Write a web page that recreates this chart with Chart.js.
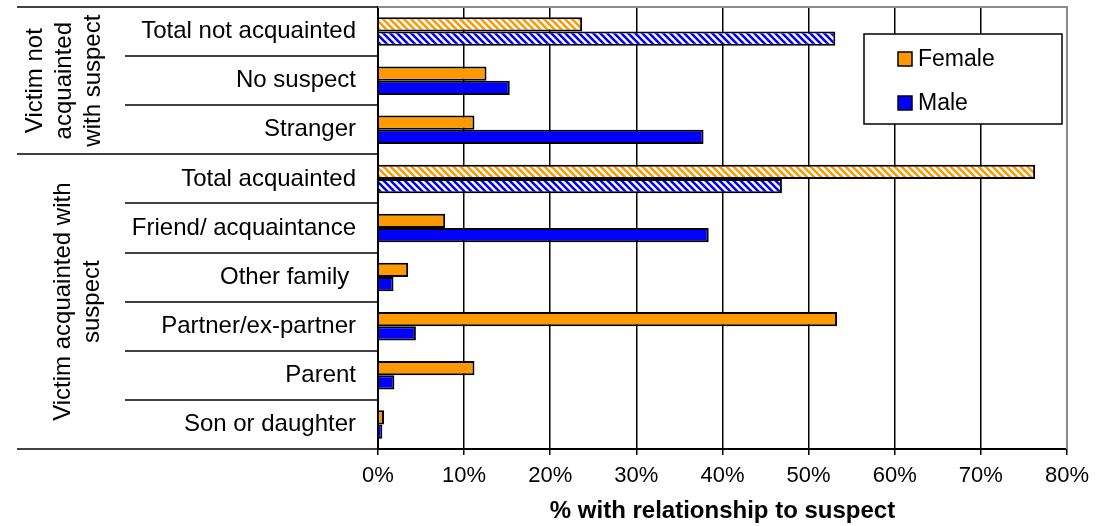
<!DOCTYPE html>
<html>
<head>
<meta charset="utf-8">
<script src="https://cdn.jsdelivr.net/npm/chart.js"></script>
<style>
  html, body { margin: 0; padding: 0; background: #fff; }
  canvas { display: block; }
</style>
</head>
<body>
<canvas id="chart" width="1097" height="526"></canvas>
<script>
const categories = ['Total not acquainted', 'No suspect', 'Stranger', 'Total acquainted',
  'Friend/ acquaintance', 'Other family ', 'Partner/ex-partner', 'Parent', 'Son or daughter'];
const female = [23.7, 12.6, 11.2, 76.3, 7.8, 3.5, 53.3, 11.2, 0.7];
const male = [53.1, 15.3, 37.8, 46.9, 38.4, 1.8, 4.4, 1.9, 0.5];
const groupLabels = [['Victim not', 'acquainted', 'with suspect'], ['Victim acquainted with', 'suspect']];
const groupSizes = [3, 6];
const xTicks = [0, 10, 20, 30, 40, 50, 60, 70, 80];

const FONT = '"Liberation Sans", Arial, sans-serif';
const ORANGE = '#FF9900';
const BLUE = '#0000FF';

// downward diagonal stripes for the "Total" rows
function hatch(color) {
  const s = 7;
  const c = document.createElement('canvas');
  c.width = s; c.height = s;
  const g = c.getContext('2d');
  g.fillStyle = '#fff';
  g.fillRect(0, 0, s, s);
  g.strokeStyle = color;
  g.lineWidth = 2.6;
  g.beginPath();
  for (const k of [-s, 0, s]) {
    g.moveTo(k - 1, -1);
    g.lineTo(k + s + 1, s + 1);
  }
  g.stroke();
  return g.createPattern(c, 'repeat');
}

const isTotal = categories.map(c => c.startsWith('Total'));
const femaleFill = isTotal.map(t => t ? hatch(ORANGE) : ORANGE);
const maleFill = isTotal.map(t => t ? hatch(BLUE) : BLUE);

const decorations = {
  id: 'decorations',
  afterDraw(chart) {
    const ctx = chart.ctx;
    const y = chart.scales.y;
    const area = chart.chartArea;
    const n = categories.length;
    ctx.save();

    // plot frame top/right in grey
    ctx.strokeStyle = '#8c8c8c';
    ctx.lineWidth = 2;
    ctx.beginPath();
    ctx.moveTo(area.left, area.top);
    ctx.lineTo(area.right, area.top);
    ctx.lineTo(area.right, area.bottom);
    ctx.stroke();

    // separators in the label area
    const groupEdges = [0];
    groupSizes.forEach(s => groupEdges.push(groupEdges[groupEdges.length - 1] + s));
    ctx.strokeStyle = '#000';
    ctx.lineWidth = 1.5;
    for (let i = 0; i <= n; i++) {
      const py = Math.round(y.getPixelForValue(i - 0.5));
      const x0 = groupEdges.includes(i) ? 17 : 125;
      ctx.beginPath();
      ctx.moveTo(x0, py);
      ctx.lineTo(area.left, py);
      ctx.stroke();
    }

    // group labels, rotated
    const blockX = [64, 78];
    ctx.fillStyle = '#000';
    ctx.font = '24px ' + FONT;
    ctx.textAlign = 'center';
    ctx.textBaseline = 'middle';
    groupLabels.forEach((lines, g) => {
      const a = y.getPixelForValue(groupEdges[g] - 0.5);
      const b = y.getPixelForValue(groupEdges[g + 1] - 0.5);
      ctx.save();
      ctx.translate(blockX[g], (a + b) / 2);
      ctx.rotate(-Math.PI / 2);
      lines.forEach((t, k) => {
        ctx.fillText(t, 0, (k - (lines.length - 1) / 2) * 29);
      });
      ctx.restore();
    });

    // legend box
    const lx = 864, ly = 34, lw = 198, lh = 90;
    ctx.fillStyle = '#fff';
    ctx.fillRect(lx, ly, lw, lh);
    ctx.strokeStyle = '#000';
    ctx.lineWidth = 1.5;
    ctx.strokeRect(lx, ly, lw, lh);
    const swatches = [ORANGE, BLUE];
    ctx.font = '23px ' + FONT;
    ctx.textAlign = 'left';
    chart.data.datasets.forEach((ds, i) => {
      const cy = 59 + i * 44;
      ctx.fillStyle = swatches[i];
      ctx.fillRect(898, cy - 7, 14, 14);
      ctx.strokeRect(898, cy - 7, 14, 14);
      ctx.fillStyle = '#000';
      ctx.fillText(ds.label, 918, cy + 1);
    });
    ctx.restore();
  }
};

new Chart(document.getElementById('chart'), {
  type: 'bar',
  data: {
    labels: categories,
    datasets: [
      { label: 'Female', data: female, backgroundColor: femaleFill, borderColor: '#000', borderWidth: 2 },
      { label: 'Male', data: male, backgroundColor: maleFill, borderColor: '#000', borderWidth: 2 }
    ]
  },
  options: {
    indexAxis: 'y',
    responsive: false,
    animation: false,
    devicePixelRatio: 1,
    categoryPercentage: 0.58,
    barPercentage: 1,
    layout: { padding: { top: 7, right: 30, left: 0, bottom: 0 } },
    plugins: { legend: { display: false }, tooltip: { enabled: false } },
    scales: {
      x: {
        min: 0,
        max: 80,
        afterBuildTicks(scale) { scale.ticks = xTicks.map(v => ({ value: v })); },
        afterFit(scale) { scale.height = 77; },
        ticks: { callback: v => v + '%', color: '#000', padding: 8, font: { family: FONT, size: 22 } },
        grid: {
          color: c => (c.tick && c.tick.value === 80 ? '#8c8c8c' : '#000'),
          lineWidth: 1.5,
          tickLength: 6,
          tickColor: '#000'
        },
        border: { color: '#000', width: 2 },
        title: {
          display: true,
          text: '% with relationship to suspect',
          color: '#000',
          font: { family: FONT, size: 24, weight: 'bold' },
          padding: { top: 10, bottom: 0 }
        }
      },
      y: {
        afterFit(scale) {
          scale.width = 378;
          scale.paddingTop = 0;
          scale.paddingBottom = 0;
        },
        ticks: { color: '#000', padding: 22, font: { family: FONT, size: 24 } },
        grid: { display: true, drawOnChartArea: false, drawTicks: false },
        border: { color: '#000', width: 2 }
      }
    }
  },
  plugins: [decorations]
});
</script>
</body>
</html>
